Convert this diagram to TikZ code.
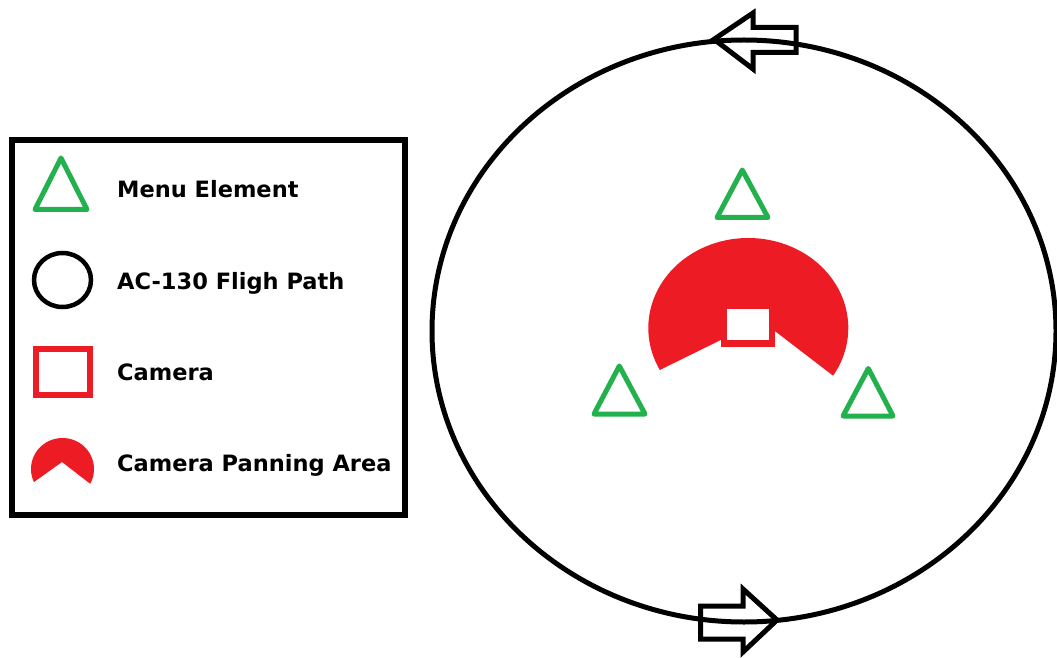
\documentclass[tikz,border=0pt]{standalone}
\usepackage{fontspec}
\setmainfont{DejaVu Sans}
\usepackage{tikz}
\usetikzlibrary{calc}
\definecolor{cGreen}{RGB}{34,177,76}
\definecolor{cRed}{RGB}{237,28,36}
\tikzset{
  legtext/.style={anchor=base west,inner sep=0pt,
                  font=\fontsize{22.5}{26}\selectfont\bfseries},
  legbox/.style={draw=black,line width=6pt},
  menutri/.style={draw=cGreen,line width=5pt,line join=round},
  camrect/.style={draw=cRed,fill=white,line width=6.5pt},
  panarea/.style={fill=cRed},
  flightpath/.style={draw=black,line width=5pt},
  dirarrow/.style={draw=black,line width=5pt,line join=miter}
}

\begin{document}
\begin{tikzpicture}[x=1pt,y=1pt]
  \useasboundingbox (0,0) rectangle (1057,657);

  % legend
  \draw[legbox] (11.5,142) rectangle (405,516.5);
  \draw[menutri] (61,499) -- (87,447.5) -- (35,447.5) -- cycle;
  \draw[flightpath,line width=4.5pt] (62.5,377) ellipse [x radius=28.5,y radius=27];
  \draw[camrect] (36,262) rectangle (90,308);
  \coordinate (legpan) at (62.5,188);
  \fill[panarea] (legpan) ++(205:31.5 and 31)
    arc[start angle=205,end angle=-28.5,x radius=31.5,y radius=31]
    -- (62,195) -- cycle;
  \node[legtext] (menu)    at (117,459.3) {Menu Element};
  \node[legtext] (flight)  at (117,367.7) {AC-130 Fligh Path};
  \node[legtext] (camera)  at (117,277)   {Camera};
  \node[legtext] (panning) at (117,185.3) {Camera Panning Area};

  % flight path
  \coordinate (orbit) at (744,326);
  \draw[flightpath] (orbit) ellipse [x radius=312,y radius=291];
  \draw[dirarrow] (714,617.7) -- (753,644) -- (753,629.5) -- (796,629.5)
    -- (796,604.5) -- (753,604.5) -- (753,588) -- cycle;
  \draw[dirarrow] (777,37) -- (743,68) -- (743,51) -- (700.5,51)
    -- (700.5,18) -- (743,18) -- (743,5) -- cycle;

  % camera and panning area
  \coordinate (pan) at (748.3,329);
  \fill[panarea] (pan) ++(207.8:100 and 90)
    arc[start angle=207.8,end angle=-32,x radius=100,y radius=90]
    -- (775.7,325.3) -- (748,325) -- (720.7,317) -- cycle;
  \draw[camrect] (724.2,313.7) rectangle (772.2,351);

  % menu elements
  \draw[menutri] (742.3,487) -- (768,439.5) -- (717,439.5) -- cycle;
  \draw[menutri] (619.3,291) -- (645,243) -- (594,243) -- cycle;
  \draw[menutri] (868.3,288.5) -- (893,241) -- (843,241) -- cycle;
\end{tikzpicture}
\end{document}
